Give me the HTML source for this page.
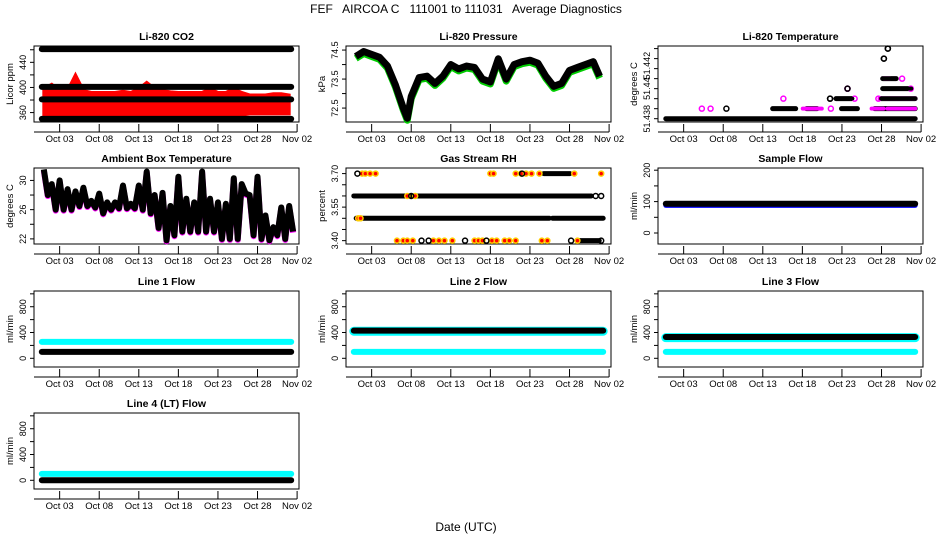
<!DOCTYPE html>
<html><head><meta charset="utf-8"><style>
body{margin:0;background:#fff;}
svg{display:block;font-family:"Liberation Sans",sans-serif;}
</style></head><body>
<svg id="c" width="936" height="540" viewBox="0 0 936 540">
<text x="466" y="13" text-anchor="middle" font-size="12" style="white-space:pre">FEF   AIRCOA C   111001 to 111031   Average Diagnostics</text>
<text x="466" y="531" text-anchor="middle" font-size="12">Date (UTC)</text>
</svg>
<script>
// x ticks (days since Oct 01)
const xTickDays = [2,7,12,17,22,27,32];
const xTickLabels = ["Oct 03","Oct 08","Oct 13","Oct 18","Oct 23","Oct 28","Nov 02"];
// CO2
const co2Levels = [350, 381, 401, 461];
const co2RedHi = [398,405,395,395,420,395,392,392,392,392,394,392,398,408,398,395,393,392,392,392,392,398,392,392,398,392,388,388,388,390,390,388];
const co2RedLo = [356,355,355,355,355,355,355,356,356,356,356,356,356,356,356,356,356,356,356,356,356,356,356,356,356,356,358,358,358,358,358,358];
// Pressure (daily)
const pressDays = [0,1,2,3,4,5,6,6.5,7,8,9,10,11,12,13,14,15,16,17,18,19,20,21,22,23,24,25,26,27,28,29,30,30.8];
const pressVals = [74.28,74.45,74.35,74.25,73.95,73.3,72.5,72.15,72.9,73.55,73.6,73.35,73.6,74.0,73.85,73.95,73.9,73.5,73.4,74.2,73.5,74.0,74.1,74.15,74.05,73.6,73.25,73.35,73.8,73.9,74.0,74.1,73.6];
// Li-820 temperature scattered levels [start day, end day, level]
const tempMag = [[4.3,4.3,1],[5.4,5.4,1],[14.6,14.6,2],[17.3,19.2,1],[20.6,20.6,1],[22.7,22.7,3],[23.6,23.6,2],[26.0,27.0,1],[26.6,26.6,2],[27.5,27.8,4],[29.6,29.6,4],[30.7,30.7,3],[27,31,2],[28,31,1]];
const tempBlk = [[0,31,0],[7.4,7.4,1],[13.5,15.9,1],[17.8,18.6,1],[20.5,20.5,2],[21.5,23,2],[22.7,22.7,3],[22.2,23.7,1],[26.4,31,1],[27.2,31,2],[27.4,30.5,3],[27.4,28.6,4],[27.3,27.3,6],[27.8,27.8,7]];
// Ambient box temperature daily highs/lows
const ambHi = [31.5,29.5,30,28.8,28.5,29,27.2,28.2,27,27,29.3,26.8,29.3,31.2,28,28.3,26.5,30.5,27.5,27,31.2,27.5,27,26.8,30.3,29.5,28,30.5,25.2,23.6,26.3,26.5];
const ambLo = [28,26,26,26,26.5,26.5,26.3,25.5,26,26.2,26.2,26.2,26,25.5,23.5,21.8,22.5,23,23,23,23,23,22,22,22,28.2,22.5,22,21.8,22.5,22,23];
// Gas stream RH bands [start,end,value] and scattered points [day,value]
const rhBands = [[0,29.5,3.6],[0.3,24.2,3.5],[25.1,31,3.5],[24,26.8,3.7],[28.5,30.5,3.4]];
const rhYellow = [[0.8,3.7],[1.2,3.7],[1.8,3.7],[2.5,3.7],[0.3,3.5],[0.6,3.5],[17.0,3.7],[17.4,3.7],[20.2,3.7],[20.9,3.7],[21.5,3.7],[22.2,3.7],[23.2,3.7],[27.6,3.7],[31,3.7],[6.5,3.6],[7.5,3.6],[5.2,3.4],[6.0,3.4],[6.5,3.4],[7.2,3.4],[9.8,3.4],[10.5,3.4],[11.2,3.4],[12.2,3.4],[15.0,3.4],[15.5,3.4],[16.0,3.4],[17.2,3.4],[17.8,3.4],[18.8,3.4],[19.4,3.4],[20.2,3.4],[23.5,3.4],[24.2,3.4],[28.0,3.4]];
const rhBlack = [[0.2,3.7],[21.0,3.7],[8.3,3.4],[9.2,3.4],[13.8,3.4],[16.5,3.4],[27.2,3.4],[31,3.4],[30.3,3.6],[31,3.6],[7.0,3.6]];
// Flows: [black level, cyan level]
const sampleFlow = [93, 88];
const line1Flow = [100, 255];
const line2Flow = [430, 100];
const line3Flow = [330, 100];
const line4Flow = [0, 100];

const svg = document.getElementById('c');
const NS = 'http://www.w3.org/2000/svg';
const X0 = -1.24, X1 = 32.24;
function mk(tag, attrs, parent){const e=document.createElementNS(NS,tag);for(const k in attrs)e.setAttribute(k,attrs[k]);(parent||svg).appendChild(e);return e;}

function panel(name, title, col, row, ylo, yhi, yTicks, yLabels, yTitle){
  const L=[34,346,658][col], T=[46,168,291,413][row], W=265, H=76;
  const g = mk('g',{});
  
  
  const sx = d => L + (d - X0)/(X1-X0)*W;
  const sy = v => T + H - (v - ylo)/(yhi-ylo)*H;
  const t = mk('text',{x:L+W/2,y:T-6,'text-anchor':'middle','font-size':'10.5','font-weight':'bold'},g);
  t.textContent = title;
  
  
  const box = mk('rect',{x:L,y:T,width:W,height:H,fill:'none',stroke:'#000','stroke-width':1},g);
  
  
  const xa = mk('g',{},g);
  
  
  const ay = T+H+10;
  mk('line',{x1:L,x2:sx(xTickDays[xTickDays.length-1]),y1:ay,y2:ay,stroke:'#000'},xa);
  xTickDays.forEach((d,i)=>{
    mk('line',{x1:sx(d),x2:sx(d),y1:ay,y2:ay-8,stroke:'#000'},xa);
    if(row<3 || col===0){
      const tl = mk('text',{x:sx(d),y:ay+10,'text-anchor':'middle','font-size':'9.5'},xa);
      tl.textContent = xTickLabels[i];
      
      
    }
  });
  const ya = mk('g',{},g);
  
  
  yTicks.forEach((v)=>{ mk('line',{x1:L-4,x2:L,y1:sy(v),y2:sy(v),stroke:'#000'},ya); });
  yLabels.forEach(([v,lab])=>{
    const tl = mk('text',{x:L-8,y:sy(v),'text-anchor':'middle','font-size':'9',transform:`rotate(-90 ${L-8} ${sy(v)})`},ya);
    tl.textContent = lab;
    
    
  });
  const yt = mk('text',{x:L-21,y:T+H/2,'text-anchor':'middle','font-size':'9.5',transform:`rotate(-90 ${L-21} ${T+H/2})`},g);
  yt.textContent = yTitle;
  
  
  const clip = mk('g',{},g);
  return {g:clip, sx, sy};
}
function band(p, d0, d1, v, color, w, nm){
  const l = mk('line',{x1:p.sx(d0)-2,x2:p.sx(d1)+2,y1:p.sy(v),y2:p.sy(v),stroke:color,'stroke-width':w,'stroke-linecap':'round'},p.g);
  
  
}
function dot(p, d, v, color, fill, nm){
  const c = mk('circle',{cx:p.sx(d),cy:p.sy(v),r:2.5,fill:fill,stroke:color,'stroke-width':1.5},p.g);
  
  
}

// CO2
let p = panel('co2','Li-820 CO2',0,0,345,466,[360,380,400,420,440,460],[[360,'360'],[400,'400'],[440,'440']],'Licor ppm');
let pts = co2RedHi.map((v,i)=>`${p.sx(i)},${p.sy(v)}`).concat(co2RedLo.map((v,i)=>`${p.sx(i)},${p.sy(v)}`).reverse());
let poly = mk('polygon',{points:pts.join(' '),fill:'#f00',stroke:'#f00','stroke-width':3},p.g);


co2Levels.forEach(v=>band(p,0,31,v,'#000',6,'co2-black-band'));

// Pressure
p = panel('pressure','Li-820 Pressure',1,0,72.02,74.64,[72.5,73,73.5,74,74.5],[[72.5,'72.5'],[73.5,'73.5'],[74.5,'74.5']],'kPa');
let pl = mk('polyline',{points:pressDays.map((d,i)=>`${p.sx(d)},${p.sy(pressVals[i])+2}`).join(' '),fill:'none',stroke:'#0c0','stroke-width':7,'stroke-linejoin':'round'},p.g);


pl = mk('polyline',{points:pressDays.map((d,i)=>`${p.sx(d)},${p.sy(pressVals[i])}`).join(' '),fill:'none',stroke:'#000','stroke-width':7,'stroke-linejoin':'round'},p.g);



// Li-820 Temperature (level units)
p = panel('li820-temp','Li-820 Temperature',2,0,-0.33,7.26,[0,1,2,3,4,5,6,7],[[0,'51.438'],[3,'51.44'],[5.3,'51.442']],'degrees C');
tempBlk.forEach(([a,b,l])=> a===b ? dot(p,a,l,'#000','none','temp-black-point') : band(p,a,b,l,'#000',5,'temp-black-band'));
tempMag.forEach(([a,b,l])=> a===b ? dot(p,a,l,'#f0f','none','temp-magenta-point') : band(p,a,b,l,'#f0f',4,'temp-magenta-band'));
tempBlk.filter(s=>s[2]>=2).forEach(([a,b,l])=> a===b ? dot(p,a,l,'#000','none','temp-black-point') : band(p,a,b,l,'#000',4,'temp-black-band'));

// Ambient
p = panel('ambient','Ambient Box Temperature',0,1,21.3,31.7,[22,24,26,28,30],[[22,'22'],[26,'26'],[30,'30']],'degrees C');
let zz = []; ambHi.forEach((h,i)=>{zz.push([i,h]);zz.push([i+0.5,ambLo[i]]);});
pl = mk('polyline',{points:zz.map(([d,v])=>`${p.sx(d)},${p.sy(v)+1}`).join(' '),fill:'none',stroke:'#f0f','stroke-width':6,'stroke-linejoin':'round'},p.g);


pl = mk('polyline',{points:zz.map(([d,v])=>`${p.sx(d)},${p.sy(v)}`).join(' '),fill:'none',stroke:'#000','stroke-width':6,'stroke-linejoin':'round'},p.g);



// Gas stream RH
p = panel('rh','Gas Stream RH',1,1,3.385,3.725,[3.4,3.45,3.5,3.55,3.6,3.65,3.7],[[3.4,'3.40'],[3.55,'3.55'],[3.7,'3.70']],'percent');
rhBands.forEach(([a,b,v])=>band(p,a,b,v,'#000',5,'rh-black-band'));
rhYellow.forEach(([d,v])=>dot(p,d,v,'#fc0','#f00','rh-yellow-point'));
rhBlack.forEach(([d,v])=>dot(p,d,v,'#000','none','rh-black-point'));

// Sample flow
p = panel('sample-flow','Sample Flow',2,1,-35,207,[0,50,100,150,200],[[0,'0'],[100,'100'],[200,'200']],'ml/min');
band(p,0,31,sampleFlow[1],'#00f',5,'sample-flow-blue-band');
band(p,0,31,sampleFlow[0],'#000',6,'sample-flow-black-band');

function flowPanel(name,title,col,row,vals,wideCyan){
  const q = panel(name,title,col,row,-135,1044,[0,200,400,600,800,1000],[[0,'0'],[400,'400'],[800,'800']],'ml/min');
  if(wideCyan){band(q,0,31,vals[0]-10,'#0ff',9,name+'-cyan-band-behind');}
  if(vals[1]<vals[0]){band(q,0,31,vals[1],'#0ff',6,name+'-cyan-band');band(q,0,31,vals[0],'#000',6,name+'-black-band');}
  else {band(q,0,31,vals[0],'#000',6,name+'-black-band');band(q,0,31,vals[1],'#0ff',6,name+'-cyan-band');}
}
flowPanel('line1-flow','Line 1 Flow',0,2,line1Flow,false);
flowPanel('line2-flow','Line 2 Flow',1,2,line2Flow,true);
flowPanel('line3-flow','Line 3 Flow',2,2,line3Flow,true);
flowPanel('line4-flow','Line 4 (LT) Flow',0,3,line4Flow,false);
</script>
</body></html>
